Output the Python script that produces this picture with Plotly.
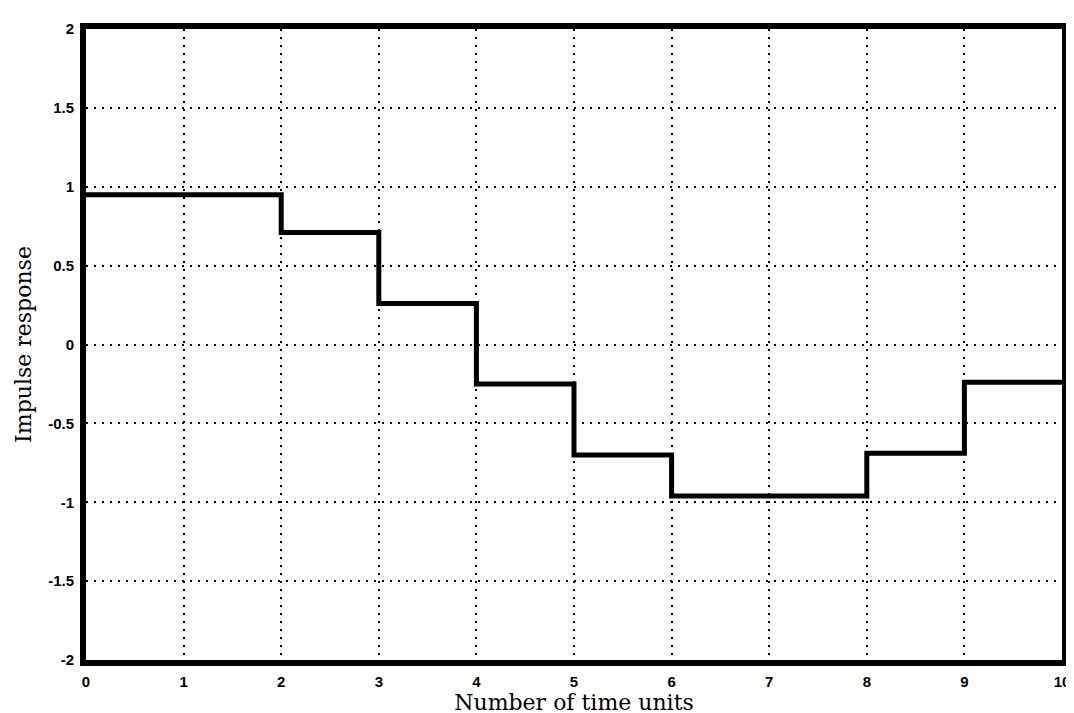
import plotly.graph_objects as go

# Data
step_starts = [0, 2, 3, 4, 5, 6, 8, 9, 10]
step_levels = [0.95, 0.71, 0.26, -0.25, -0.70, -0.96, -0.69, -0.24, -0.24]

x_tick_vals = [0, 1, 2, 3, 4, 5, 6, 7, 8, 9, 10]
x_tick_text = ["0", "1", "2", "3", "4", "5", "6", "7", "8", "9", "10"]
y_tick_vals = [-2, -1.5, -1, -0.5, 0, 0.5, 1, 1.5, 2]
y_tick_text = ["-2", "-1.5", "-1", "-0.5", "0", "0.5", "1", "1.5", "2"]

fig = go.Figure()
fig.add_trace(go.Scatter(
    x=step_starts, y=step_levels, mode="lines", line_shape="hv",
    line=dict(color="black", width=5), showlegend=False,
))

axis_common = dict(
    showline=True, linecolor="black", linewidth=6, mirror=True,
    showgrid=True, gridcolor="black", griddash="2px,6px", gridwidth=1.6,
    zeroline=False,
    ticks="outside", ticklen=3, tickcolor="rgba(0,0,0,0)",
    tickfont=dict(family="Liberation Sans", size=15, color="black", weight="bold"),
    title_font=dict(family="DejaVu Serif", size=22, color="black"),
)

fig.update_xaxes(range=[0, 10], tickvals=x_tick_vals, ticktext=x_tick_text,
                 title_text="Number of time units", title_standoff=2, **axis_common)
fig.update_yaxes(range=[-2, 2], tickvals=y_tick_vals, ticktext=y_tick_text,
                 title_text="Impulse response", title_standoff=12, **axis_common)

fig.update_layout(
    width=1074, height=713,
    margin=dict(l=78, r=15, t=15, b=61),
    plot_bgcolor="white", paper_bgcolor="white",
)

fig.write_html("out.html")
